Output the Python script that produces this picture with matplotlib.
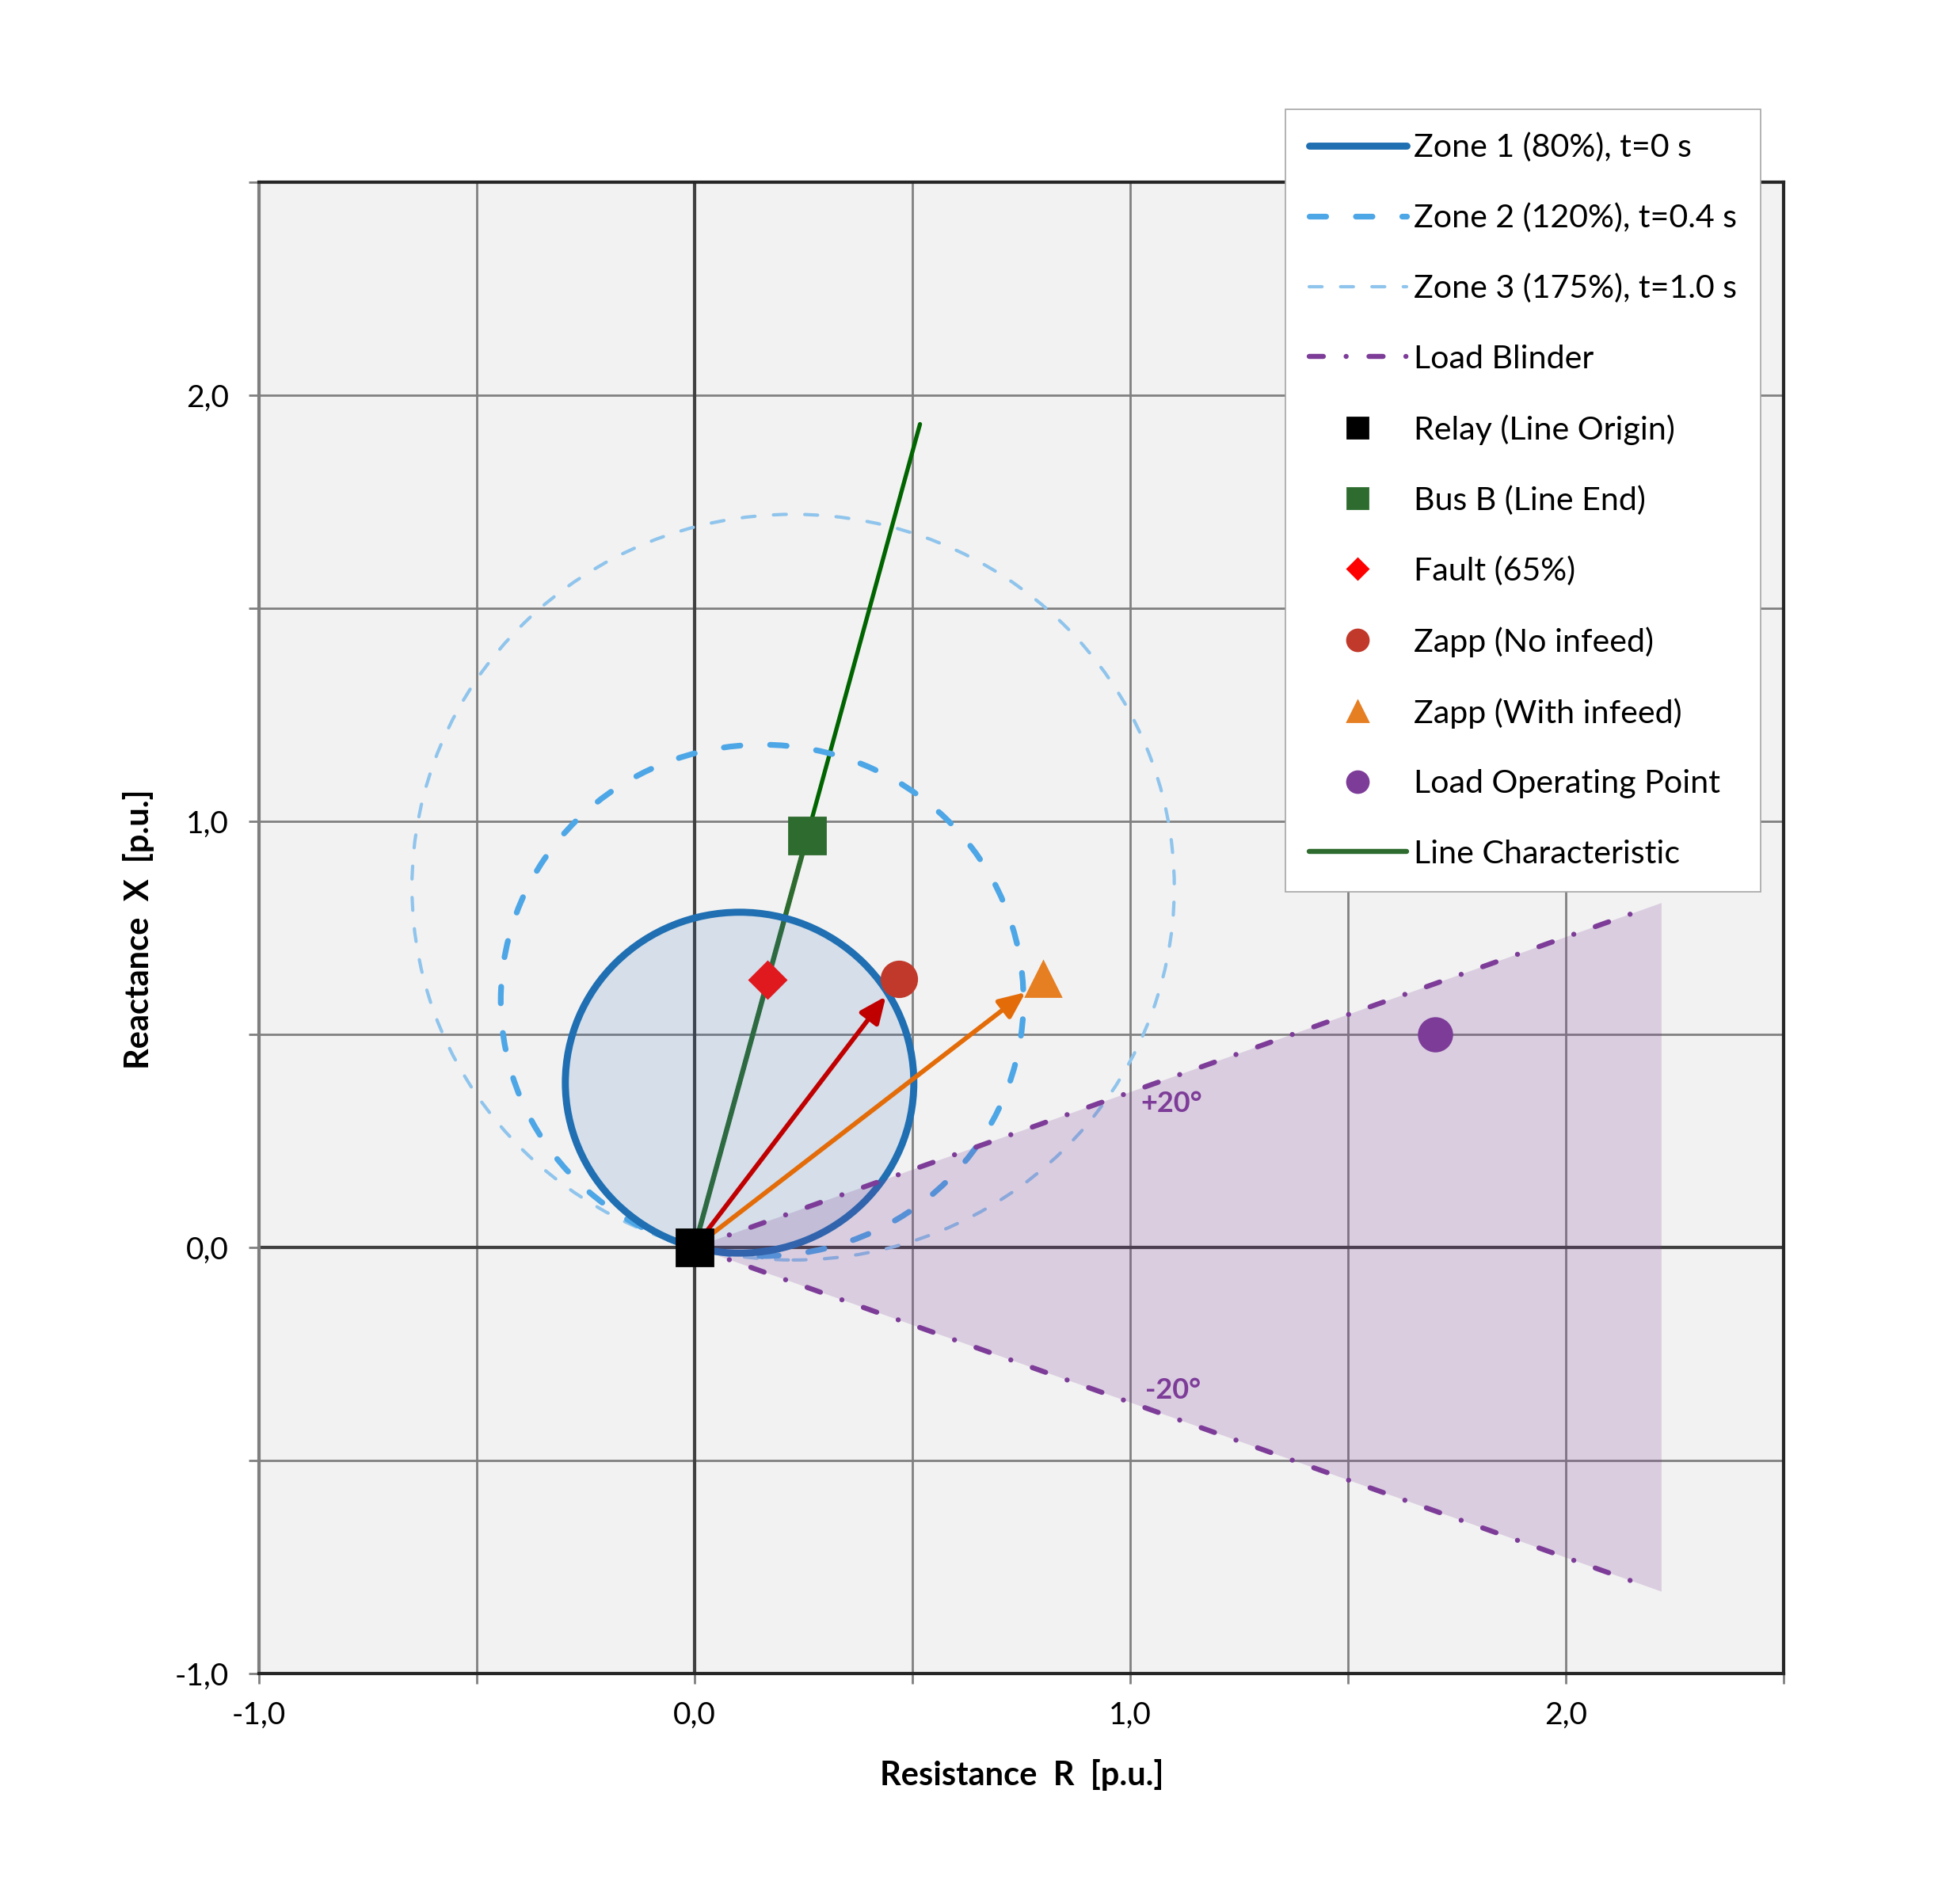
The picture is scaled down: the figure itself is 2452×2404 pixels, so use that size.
import numpy as np
import matplotlib
matplotlib.use('Agg')
import matplotlib.pyplot as plt
from matplotlib.patches import Circle
from matplotlib.lines import Line2D
from matplotlib.ticker import MultipleLocator, FuncFormatter

plt.rcParams['font.family'] = ['Lato', 'DejaVu Sans']

# line impedance (p.u.) and zone reaches
lineAngleDeg = 75
lineCharLength = 2.0
zoneNames = ['Zone 1 (80%), t=0 s', 'Zone 2 (120%), t=0.4 s', 'Zone 3 (175%), t=1.0 s']
zoneReach = [0.80, 1.20, 1.75]

# points (R, X)
relayPoint = (0.0, 0.0)
busBPoint = (0.259, 0.966)
faultPoint = (0.168, 0.628)
zappNoInfeed = (0.47, 0.63)
zappWithInfeed = (0.80, 0.63)
loadPoint = (1.70, 0.50)

# load blinder
blinderAngleDeg = 20
blinderLineEnd = 2.17
blinderFillEnd = 2.22
blinderLabels = ['+20°', '-20°']
blinderLabelPos = [(1.095, 0.338), (1.098, -0.336)]

c_zone = ['#1f6fb2', '#4da6e6', '#8fc4ec']
c_blinder = '#7d3c98'


def fmtTick(v, pos):
    if abs(v - round(v)) > 1e-6:
        return ''
    return f'{v:.1f}'.replace('.', ',')


fig = plt.figure(figsize=(12.26, 12.02), dpi=200)
ax = fig.add_axes([0.1333, 0.1211, 0.7851, 0.7833])
ax.set_facecolor('#f2f2f2')
ax.set_xlim(-1.0, 2.5)
ax.set_ylim(-1.0, 2.5)

ax.xaxis.set_major_locator(MultipleLocator(0.5))
ax.yaxis.set_major_locator(MultipleLocator(0.5))
ax.xaxis.set_major_formatter(FuncFormatter(fmtTick))
ax.yaxis.set_major_formatter(FuncFormatter(fmtTick))
ax.tick_params(direction='out', length=4.7, width=1.0, color='#808080',
               labelsize=14, labelcolor='black')
ax.tick_params(axis='x', pad=8)
ax.tick_params(axis='y', pad=9)
ax.grid(True, color='#808080', lw=1.0, zorder=0)
ax.set_axisbelow(True)

for side in ['top', 'right', 'bottom']:
    ax.spines[side].set_color('#262626')
    ax.spines[side].set_linewidth(1.5)
ax.spines['left'].set_color('#7f7f7f')
ax.spines['left'].set_linewidth(1.5)

ax.axhline(0, color='#404040', lw=1.5, zorder=1)
ax.axvline(0, color='#404040', lw=1.5, zorder=1)

# line characteristic
ang = np.deg2rad(lineAngleDeg)
ax.plot([0, lineCharLength * np.cos(ang)], [0, lineCharLength * np.sin(ang)],
        color='#006400', lw=1.9, solid_capstyle='round', zorder=3)
ax.plot([relayPoint[0], busBPoint[0]], [relayPoint[1], busBPoint[1]],
        color='#2e6b2e', lw=2.3, zorder=3.1)

# mho zones
zoneStyles = [
    dict(lw=3.2, ls='-'),
    dict(lw=2.6, ls=(0, (2.9, 5.2))),
    dict(lw=1.5, ls=(0, (3.9, 5.6))),
]
for i in [2, 1, 0]:
    r = zoneReach[i] / 2
    cx, cy = r * np.cos(ang), r * np.sin(ang)
    ax.add_patch(Circle((cx, cy), r, fill=False, edgecolor=c_zone[i],
                        linewidth=zoneStyles[i]['lw'], linestyle=zoneStyles[i]['ls'],
                        capstyle='round', zorder=4))
    if i == 0:
        ax.add_patch(Circle((cx, cy), r, facecolor='#2a66b8', alpha=0.14,
                            edgecolor='none', zorder=3.5))

# load blinder
tanB = np.tan(np.deg2rad(blinderAngleDeg))
ax.fill([0, blinderFillEnd, blinderFillEnd],
        [0, blinderFillEnd * tanB, -blinderFillEnd * tanB],
        color=c_blinder, alpha=0.2, lw=0, zorder=5)
blinderDash = (0, (2.8, 4.5, 0.01, 4.5))
for sgn in [1, -1]:
    ax.plot([0, blinderLineEnd], [0, sgn * blinderLineEnd * tanB], color=c_blinder,
            lw=2.3, ls=blinderDash, dash_capstyle='round', zorder=6)
for lab, pos in zip(blinderLabels, blinderLabelPos):
    ax.text(pos[0], pos[1], lab, color=c_blinder, fontsize=13, fontweight='bold',
            ha='center', va='center', zorder=6)

# apparent impedance arrows
for pt, col in [(zappNoInfeed, '#c00000'), (zappWithInfeed, '#e36c09')]:
    ax.annotate('', xy=pt, xytext=relayPoint,
                arrowprops=dict(arrowstyle='-|>,head_length=0.5,head_width=0.22',
                                color=col, lw=2.1, shrinkA=0, shrinkB=10,
                                mutation_scale=20),
                zorder=7)

# markers
ax.plot(*busBPoint, marker='s', ms=16.5, color='#2e6b2e', zorder=8)
ax.plot(*faultPoint, marker='D', ms=11.5, color='#e0191f', zorder=8)
ax.plot(*zappNoInfeed, marker='o', ms=16, color='#c0392b', zorder=8)
ax.plot(*zappWithInfeed, marker='^', ms=15.5, color='#e67e22', zorder=8)
ax.plot(*loadPoint, marker='o', ms=15, color='#7d3c98', zorder=8)
ax.plot(*relayPoint, marker='s', ms=16.5, color='black', zorder=9)

fig.text(0.526, 0.0678, 'Resistance  R  [p.u.]', fontsize=15, fontweight='bold',
         ha='center', va='center')
fig.text(0.0714, 0.512, 'Reactance  X  [p.u.]', fontsize=15, fontweight='bold',
         ha='center', va='center', rotation=90)

handles = [
    Line2D([], [], color=c_zone[0], lw=3.2, solid_capstyle='round'),
    Line2D([], [], color=c_zone[1], lw=2.6, ls=(0, (2.9, 5.2)), dash_capstyle='round'),
    Line2D([], [], color=c_zone[2], lw=1.5, ls=(0, (3.9, 5.6)), dash_capstyle='round'),
    Line2D([], [], color=c_blinder, lw=2.3, ls=blinderDash, dash_capstyle='round'),
    Line2D([], [], ls='none', marker='s', ms=9.7, color='black'),
    Line2D([], [], ls='none', marker='s', ms=9.7, color='#2e6b2e'),
    Line2D([], [], ls='none', marker='D', ms=6.6, color='#ff0000'),
    Line2D([], [], ls='none', marker='o', ms=9.7, color='#c0392b'),
    Line2D([], [], ls='none', marker='^', ms=9.5, color='#e67e22'),
    Line2D([], [], ls='none', marker='o', ms=9.7, color='#7d3c98'),
    Line2D([], [], color='#2e6b2e', lw=2.3, solid_capstyle='round'),
]
labels = zoneNames + ['Load Blinder', 'Relay (Line Origin)', 'Bus B (Line End)',
                      'Fault (65%)', 'Zapp (No infeed)', 'Zapp (With infeed)',
                      'Load Operating Point', 'Line Characteristic']
leg = fig.legend(handles, labels, loc='upper left', bbox_to_anchor=(0.662, 0.9426),
                 borderaxespad=0, fontsize=14.8, handlelength=3.0, handletextpad=0.22,
                 labelspacing=1.25, borderpad=0.72, fancybox=False, framealpha=1,
                 edgecolor='#a6a6a6')
leg.get_frame().set_linewidth(0.6)

fig.savefig('out.png', dpi=200, facecolor='white')
